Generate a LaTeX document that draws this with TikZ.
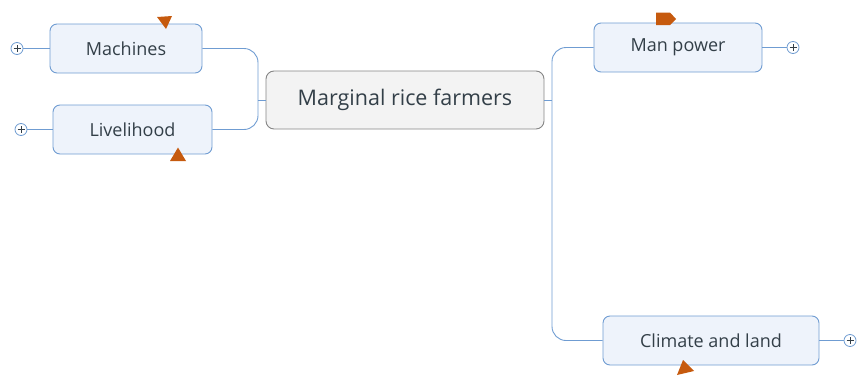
\documentclass[tikz,border=0pt]{standalone}
\usepackage{fontspec}
\setmainfont{Open Sans}
\begin{document}
\begin{tikzpicture}[x=1pt,y=-1pt,
  topic/.style={draw=nodeline, fill=nodefill, line width=0.9pt, rounded corners=7pt,
    inner sep=0pt, text=txt, font=\fontsize{18}{22}\selectfont},
  central/.style={draw=centline, fill=centfill, line width=0.9pt, rounded corners=8pt,
    inner sep=0pt, text=txt, font=\fontsize{21.5}{26}\selectfont},
  conn/.style={draw=nodeline, line width=0.9pt},
  expander/.style={circle, draw=nodeline, fill=white, line width=0.8pt, minimum size=12pt, inner sep=0pt},
  marker/.style={fill=mark, draw=none}]
\definecolor{nodeline}{HTML}{6F9CD2}
\definecolor{nodefill}{HTML}{EEF3FB}
\definecolor{centline}{HTML}{858585}
\definecolor{centfill}{HTML}{F3F3F3}
\definecolor{txt}{HTML}{333F48}
\definecolor{mark}{HTML}{C65A0E}
\useasboundingbox (0,0) rectangle (857,375);

% nodes
\node[central, minimum width=278pt, minimum height=58pt] (cen) at (405,100) {Marginal rice farmers};
\node[topic, minimum width=152pt, minimum height=49pt] (mach) at (126,48.5) {Machines};
\node[topic, minimum width=159pt, minimum height=49pt] (live) at (132.5,129.5) {Livelihood};
\node[topic, minimum width=168pt, minimum height=49pt] (man) at (678,47.5) {Man power};
\node[topic, minimum width=216pt, minimum height=49pt] (clim) at (711,340.5) {Climate and land};

% junctions
\coordinate (jL) at (258,100);
\coordinate (jR) at (552,100);

% connectors
\draw[conn, rounded corners=14pt] (mach.east) -| (jL) |- (live.east);
\draw[conn] (jL) -- (cen.west);
\draw[conn] (cen.east) -- (jR);
\draw[conn, rounded corners=14pt] (man.west) -| (jR) |- (clim.west);

% expanders
\node[expander] (e1) at (17,48.5) {};
\node[expander] (e2) at (21,129.5) {};
\node[expander] (e3) at (793,47.5) {};
\node[expander] (e4) at (850,340.5) {};
\draw[conn] (e1) -- (mach.west);
\draw[conn] (e2) -- (live.west);
\draw[conn] (e3) -- (man.east);
\draw[conn] (e4) -- (clim.east);
\foreach \e in {e1,e2,e3,e4}{
  \draw[txt, line width=0.8pt] (\e.center) ++(-3.5,0) -- ++(7,0);
  \draw[txt, line width=0.8pt] (\e.center) ++(0,-3.5) -- ++(0,7);
}

% markers
\fill[marker] (157,17) -- (172,16) -- (166,29) -- cycle;
\fill[marker] (178,147.5) -- (186,161) -- (170,161) -- cycle;
\fill[marker] (656,12.5) -- (670,12.5) -- (676,19) -- (670,25) -- (656,25) -- cycle;
\fill[marker] (683,360) -- (694,371) -- (677,375) -- cycle;
\end{tikzpicture}
\end{document}
